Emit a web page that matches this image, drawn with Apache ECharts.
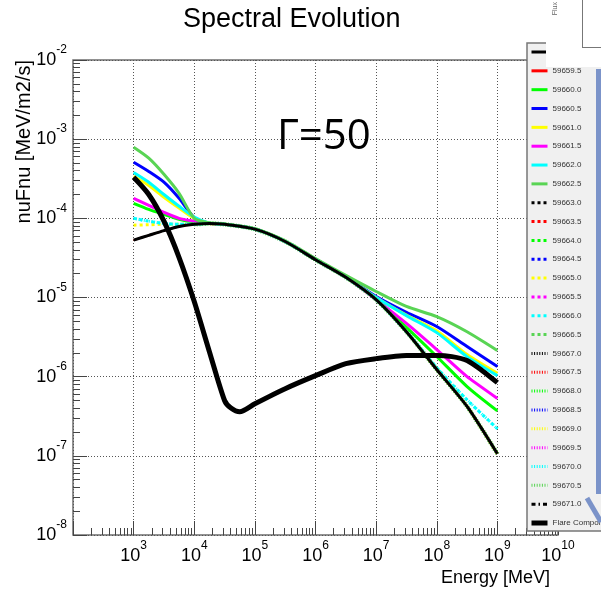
<!DOCTYPE html>
<html><head><meta charset="utf-8">
<script src="https://cdn.jsdelivr.net/npm/echarts@6/dist/echarts.min.js"></script>
<style>html,body{margin:0;padding:0;background:#fff}#c{width:601px;height:590px}</style>
</head><body><div id="c"></div>
<script>
// ---- data (energy in MeV, nuFnu in MeV/m2/s) ----
const energies = [1e3, 1778, 3162, 5623, 1e4, 17783, 31623, 1e5, 316228, 1e6, 3162278, 1e7, 31622777, 1e8, 316227766, 1e9];
const flareEnergies = [1e3, 1778, 3162, 5623, 1e4, 17783, 31623, 39811, 56234, 1e5, 316228, 1e6, 3162278, 1e7, 31622777, 1e8, 177827941, 316227766, 562341325, 1e9];

const baseline  = [5.3e-5, 6.1e-5, 7.0e-5, 7.9e-5, 8.4e-5, 8.6e-5, 8.4e-5, 7.3e-5, 5.1e-5, 3.0e-5, 1.8e-5, 9.4e-6, 3.7e-6, 1.23e-6, 4.2e-7, 1.06e-7];
const lime      = [1.55e-4, 1.3e-4, 1.12e-4, 9.7e-5, 8.9e-5, 8.6e-5, 8.4e-5, 7.3e-5, 5.1e-5, 3.0e-5, 1.8e-5, 9.5e-6, 4.2e-6, 1.8e-6, 7.5e-7, 3.7e-7];
const blue      = [5.1e-4, 3.9e-4, 2.86e-4, 1.79e-4, 1.02e-4, 8.7e-5, 8.4e-5, 7.3e-5, 5.1e-5, 3.05e-5, 1.82e-5, 1.03e-5, 6.5e-6, 4.3e-6, 2.4e-6, 1.34e-6];
const yellow    = [3.4e-4, 2.6e-4, 1.85e-4, 1.35e-4, 1.0e-4, 8.6e-5, 8.4e-5, 7.3e-5, 5.1e-5, 3.0e-5, 1.8e-5, 1.0e-5, 6.0e-6, 3.8e-6, 1.9e-6, 1.1e-6];
const magenta   = [1.79e-4, 1.46e-4, 1.19e-4, 1.0e-4, 9.2e-5, 8.6e-5, 8.4e-5, 7.3e-5, 5.1e-5, 3.0e-5, 1.8e-5, 9.4e-6, 4.7e-6, 2.2e-6, 1.0e-6, 5.3e-7];
const cyan      = [3.8e-4, 2.86e-4, 2.0e-4, 1.42e-4, 1.04e-4, 8.7e-5, 8.4e-5, 7.3e-5, 5.1e-5, 3.0e-5, 1.8e-5, 1.0e-5, 5.9e-6, 3.6e-6, 1.79e-6, 1.03e-6];
const green     = [7.9e-4, 5.75e-4, 3.6e-4, 2.07e-4, 1.0e-4, 8.8e-5, 8.5e-5, 7.4e-5, 5.2e-5, 3.1e-5, 1.9e-5, 1.19e-5, 7.7e-6, 5.75e-6, 3.7e-6, 2.14e-6];
const cyanLow   = [1.0e-4, 9.2e-5, 8.6e-5, 8.4e-5, 8.4e-5, 8.6e-5, 8.4e-5, 7.3e-5, 5.1e-5, 3.0e-5, 1.8e-5, 9.4e-6, 3.7e-6, 1.3e-6, 5.1e-7, 2.2e-7];
const yellowLow = [8.2e-5, 8.3e-5, 8.4e-5, 8.4e-5, 8.4e-5, 8.6e-5, 8.4e-5, 7.3e-5, 5.1e-5, 3.0e-5, 1.8e-5, 9.4e-6, 3.7e-6, 1.23e-6, 4.2e-7, 1.06e-7];
const flare     = [3.3e-4, 2.0e-4, 9.2e-5, 3.2e-5, 8.9e-6, 2.07e-6, 5.0e-7, 4.05e-7, 3.6e-7, 4.55e-7, 7.05e-7, 1.03e-6, 1.46e-6, 1.69e-6, 1.85e-6, 1.85e-6, 1.79e-6, 1.6e-6, 1.19e-6, 8.4e-7];

// tick decades and minor multipliers
const xDecades = [2, 3, 4, 5, 6, 7, 8, 9, 10];
const yDecades = [-8, -7, -6, -5, -4, -3, -2];
const minorSteps = [2, 3, 4, 5, 6, 7, 8, 9];

const legendNames = ['59659.0','59659.5','59660.0','59660.5','59661.0','59661.5','59662.0','59662.5',
  '59663.0','59663.5','59664.0','59664.5','59665.0','59665.5','59666.0','59666.5',
  '59667.0','59667.5','59668.0','59668.5','59669.0','59669.5','59670.0','59670.5','59671.0','Flare Component'];

// ---- styles ----
const C = {k:'#000000', r:'#ff0000', g:'#00ff00', b:'#0000ff', y:'#ffff00', m:'#ff00ff', c:'#00ffff', g8:'#59d454'};
const DASH = [3, 3], DOT = [1, 1.6], DASHDOT = [4, 3, 1.5, 3];

const defs = [
  [C.k, 'solid', baseline, 3, 4, 0],
  [C.r, 'solid', baseline, 2, 1, 0],
  [C.g, 'solid', lime, 3, 2, 0],
  [C.b, 'solid', blue, 3, 2, 0],
  [C.y, 'solid', yellow, 3, 2, 0],
  [C.m, 'solid', magenta, 3, 2, 0],
  [C.c, 'solid', cyan, 3, 2, 0],
  [C.g8,'solid', green, 3, 2, 0],
  [C.k, DASH, baseline, 2, 1, 4],
  [C.r, DASH, baseline, 2, 1, 4],
  [C.g, DASH, baseline, 2, 1, 4],
  [C.b, DASH, baseline, 2, 1, 4],
  [C.y, DASH, yellowLow, 3, 2, 0],
  [C.m, DASH, baseline, 2, 1, 4],
  [C.c, DASH, cyanLow, 3, 2, 0],
  [C.g8,DASH, baseline, 2, 1, 4],
  [C.k, DOT, baseline, 2, 1, 4],
  [C.r, DOT, baseline, 2, 1, 4],
  [C.g, DOT, baseline, 2, 1, 4],
  [C.b, DOT, baseline, 2, 1, 4],
  [C.y, DOT, baseline, 2, 1, 4],
  [C.m, DOT, baseline, 2, 1, 4],
  [C.c, DOT, cyanLow, 3, 2, 0],
  [C.g8,DOT, baseline, 4.5, 3, 4],
  [C.k, DASHDOT, baseline, 2, 1, 4]
];

const series = defs.map((d, i) => ({
  type: 'line', name: legendNames[i], symbol: 'none', smooth: 0.25,
  data: energies.map((e, j) => [e, d[2][j]]).slice(d[5]),
  lineStyle: {color: d[0], width: d[3], type: d[1]},
  itemStyle: {color: d[0]}, z: d[4], animation: false
}));
series.push({
  type: 'line', name: 'Flare Component', symbol: 'none', smooth: 0.25,
  data: flareEnergies.map((e, j) => [e, flare[j]]),
  lineStyle: {color: '#000', width: 5}, itemStyle: {color: '#000'}, z: 5, animation: false
});

const FONT = 'Liberation Sans, Arial, Helvetica, sans-serif';
const rich = {
  b: {fontSize: 18, lineHeight: 32, fontFamily: FONT, color: '#000'},
  e: {fontSize: 12, lineHeight: 12, verticalAlign: 'top', fontFamily: FONT, color: '#000'}
};
const expFmt = v => { const n = Math.round(Math.log10(v)); return '{b|10}{e|' + n + '}'; };
const minorX = []; xDecades.slice(0, -1).forEach(n => minorSteps.forEach(k => minorX.push(n + Math.log10(k))));
const minorY = []; yDecades.slice(0, -1).forEach(n => minorSteps.forEach(k => minorY.push(n + Math.log10(k))));

const grid = {left: 73, right: 43, top: 60, bottom: 55, show: true, borderColor: '#6e6e6e', borderWidth: 1.5, containLabel: false, outerBoundsMode: 'none'};
const splitStyle = {show: true, lineStyle: {color: '#555', width: 1, type: [1, 2]}};

const legendData = legendNames.map(n => n === 'Flare Component' ? {name: n, lineStyle: {width: 5}} : {name: n});

const option = {
  animation: false,
  backgroundColor: '#fff',
  title: {text: 'Spectral Evolution', left: 183, top: 6, padding: 0,
    textStyle: {fontFamily: FONT, fontSize: 27, fontWeight: 'normal', color: '#000'}},
  grid: grid,
  xAxis: [
    {type: 'log', logBase: 10, min: 1e2, max: 1e10, splitNumber: 8, position: 'bottom',
      axisLine: {show: false}, axisTick: {inside: true, length: 14, lineStyle: {color: '#444'}},
      axisLabel: {margin: 5, formatter: v => Math.round(Math.log10(v)) === xDecades[0] ? '' : expFmt(v), rich: rich},
      splitLine: splitStyle},
    {type: 'value', min: xDecades[0], max: xDecades[xDecades.length - 1], position: 'bottom',
      axisLine: {show: false}, axisLabel: {show: false}, splitLine: {show: false},
      axisTick: {inside: true, length: 7, lineStyle: {color: '#444'}, customValues: minorX}}
  ],
  yAxis: [
    {type: 'log', logBase: 10, min: 1e-8, max: 1e-2, splitNumber: 6, position: 'left',
      axisLine: {show: false}, axisTick: {inside: true, length: 14, lineStyle: {color: '#444'}},
      axisLabel: {margin: 6, formatter: expFmt, rich: rich},
      splitLine: splitStyle},
    {type: 'value', min: yDecades[0], max: yDecades[yDecades.length - 1], position: 'left',
      axisLine: {show: false}, axisLabel: {show: false}, splitLine: {show: false},
      axisTick: {inside: true, length: 7, lineStyle: {color: '#444'}, customValues: minorY}}
  ],
  legend: {orient: 'vertical', left: 527, top: 43, itemWidth: 16, itemHeight: 10, itemGap: 10.84,
    padding: [5, 80, 4, 2], backgroundColor: '#f0f0f0', borderColor: '#777', borderWidth: 1.5,
    selectedMode: false, z: 10,
    itemStyle: {opacity: 0, color: 'rgba(0,0,0,0)', borderWidth: 0},
    lineStyle: {width: 3},
    textStyle: {fontSize: 8, color: '#333', fontFamily: FONT},
    data: legendData},
  graphic: [
    {type: 'text', x: 24, y: 60, rotation: Math.PI / 2, z: 50,
      style: {text: 'nuFnu [MeV/m2/s]', font: '20px ' + FONT, fill: '#000', align: 'right', verticalAlign: 'middle'}},
    {type: 'text', x: 550, y: 578, z: 50,
      style: {text: 'Energy [MeV]', font: '18px ' + FONT, fill: '#000', align: 'right', verticalAlign: 'middle'}},
    {type: 'text', x: 277, y: 137, z: 50,
      style: {text: 'Γ=50', font: '42px "Open Sans", sans-serif', fill: '#000', align: 'left', verticalAlign: 'middle'}},
    {type: 'rect', shape: {x: 546, y: 0, width: 55, height: 67}, style: {fill: '#fff'}, z: 100},
    {type: 'line', shape: {x1: 582.5, y1: 0, x2: 582.5, y2: 47}, style: {stroke: '#777', lineWidth: 1}, z: 101},
    {type: 'line', shape: {x1: 582, y1: 47.5, x2: 601, y2: 47.5}, style: {stroke: '#777', lineWidth: 1}, z: 101},
    {type: 'text', x: 555, y: 2, rotation: Math.PI / 2, z: 101,
      style: {text: 'Flux', font: '7px ' + FONT, fill: '#666', align: 'right', verticalAlign: 'middle'}},
    {type: 'rect', shape: {x: 596, y: 69, width: 5, height: 425}, style: {fill: '#7b93c9'}, z: 100},
    {type: 'line', shape: {x1: 587, y1: 498, x2: 601, y2: 522}, style: {stroke: '#7b93c9', lineWidth: 5}, z: 100}
  ],
  series: series
};
const chart = echarts.init(document.getElementById('c'), null, {renderer: 'canvas'});
chart.setOption(option);
</script>
</body></html>
